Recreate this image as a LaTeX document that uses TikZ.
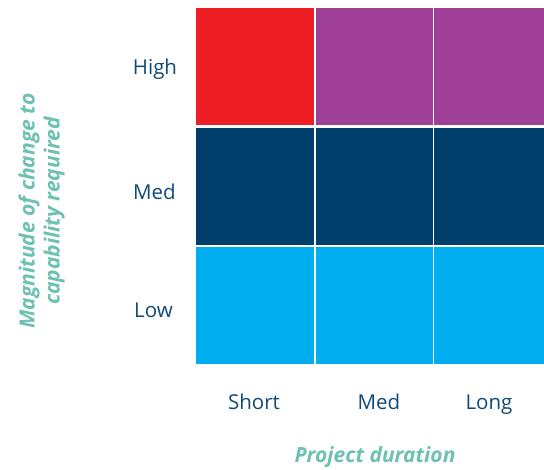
\documentclass[tikz,border=0pt]{standalone}
\usepackage{fontspec}
\setmainfont{Open Sans}
\definecolor{cellred}{HTML}{ED1F24}
\definecolor{cellpurple}{HTML}{9E4097}
\definecolor{cellnavy}{HTML}{003F6B}
\definecolor{cellcyan}{HTML}{00ADEE}
\definecolor{labelblue}{HTML}{0F4A7A}
\definecolor{axisteal}{HTML}{6CC1B2}
\tikzset{
  cell/.style={draw=none, inner sep=0pt, anchor=north west, minimum height=117pt},
  wide/.style={minimum width=117.5pt},
  edge/.style={minimum width=110pt},
  level/.style={text=labelblue, font=\fontsize{20.5}{24}\selectfont, inner sep=0pt, anchor=base},
  axistitle/.style={text=axisteal, font=\fontsize{21}{25}\selectfont\bfseries\itshape, inner sep=0pt, align=center},
}
\begin{document}
\begin{tikzpicture}[x=1pt, y=-1pt]
  \useasboundingbox (0,0) rectangle (544,470);
  % matrix cells: rows High / Med / Low, columns Short / Med / Long
  \node[cell, wide, fill=cellred]    (hs) at (196,8) {};
  \node[cell, wide, fill=cellpurple] (hm) at (315.5,8) {};
  \node[cell, edge, fill=cellpurple] (hl) at (434,8) {};
  \node[cell, wide, fill=cellnavy]   (ms) at (196,127.5) {};
  \node[cell, wide, fill=cellnavy]   (mm) at (315.5,127.5) {};
  \node[cell, edge, fill=cellnavy]   (ml) at (434,127.5) {};
  \node[cell, wide, fill=cellcyan]   (ls) at (196,246.5) {};
  \node[cell, wide, fill=cellcyan]   (lm) at (315.5,246.5) {};
  \node[cell, edge, fill=cellcyan]   (ll) at (434,246.5) {};
  % row labels
  \node[level] (rhigh) at (155,75) {High};
  \node[level] (rmed)  at (154.5,200) {Med};
  \node[level] (rlow)  at (153.5,318) {Low};
  % column labels
  \node[level] (cshort) at (254,410) {Short};
  \node[level] (cmed)   at (379,410) {Med};
  \node[level] (clong)  at (489,410) {Long};
  % axis titles
  \node[axistitle, anchor=base] (xtitle) at (375,463) {Project duration};
  \node[axistitle, rotate=90] (ytitle) at (41.5,211) {Magnitude of change to\\capability required};
\end{tikzpicture}
\end{document}
